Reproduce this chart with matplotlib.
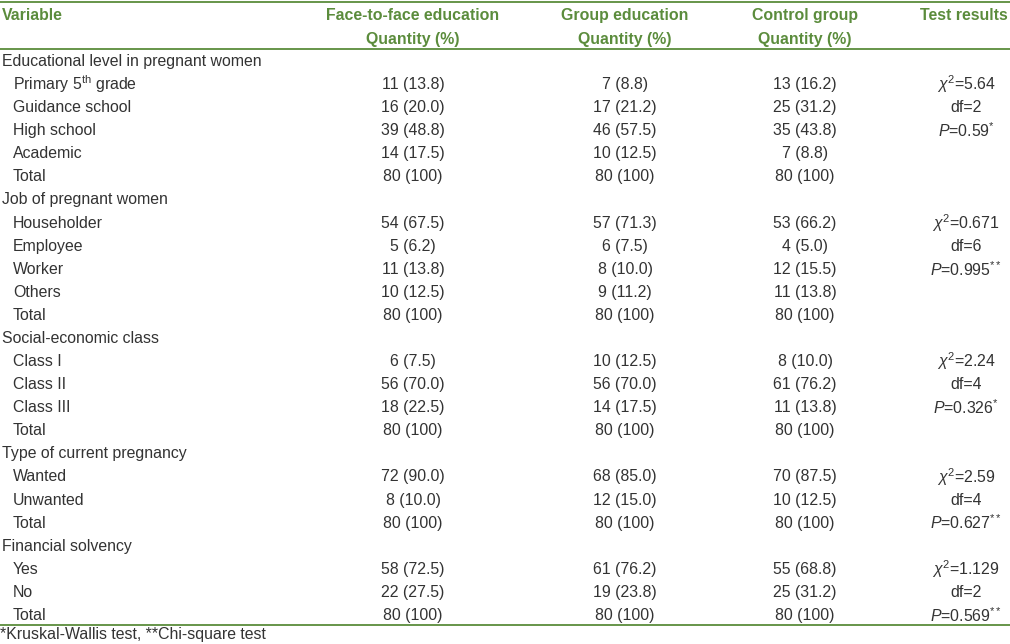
import matplotlib
matplotlib.use("Agg")
import matplotlib.pyplot as plt

plt.rcParams['font.family'] = ['Liberation Sans', 'DejaVu Sans']
plt.rcParams['mathtext.fontset'] = 'custom'
plt.rcParams['mathtext.rm'] = 'Liberation Sans'
plt.rcParams['mathtext.it'] = 'Liberation Sans:italic'
plt.rcParams['mathtext.bf'] = 'Liberation Sans:bold'

columns = ["Face-to-face education", "Group education", "Control group"]
sub_header = "Quantity (%)"

groups = [
    "Educational level in pregnant women",
    "Job of pregnant women",
    "Social-economic class",
    "Type of current pregnancy",
    "Financial solvency",
]
row_labels = [
    ["Primary 5$^{\\rm th}$ grade", "Guidance school", "High school", "Academic", "Total"],
    ["Householder", "Employee", "Worker", "Others", "Total"],
    ["Class I", "Class II", "Class III", "Total"],
    ["Wanted", "Unwanted", "Total"],
    ["Yes", "No", "Total"],
]
face_to_face = [
    ["11 (13.8)", "16 (20.0)", "39 (48.8)", "14 (17.5)", "80 (100)"],
    ["54 (67.5)", "5 (6.2)", "11 (13.8)", "10 (12.5)", "80 (100)"],
    ["6 (7.5)", "56 (70.0)", "18 (22.5)", "80 (100)"],
    ["72 (90.0)", "8 (10.0)", "80 (100)"],
    ["58 (72.5)", "22 (27.5)", "80 (100)"],
]
group_edu = [
    ["7 (8.8)", "17 (21.2)", "46 (57.5)", "10 (12.5)", "80 (100)"],
    ["57 (71.3)", "6 (7.5)", "8 (10.0)", "9 (11.2)", "80 (100)"],
    ["10 (12.5)", "56 (70.0)", "14 (17.5)", "80 (100)"],
    ["68 (85.0)", "12 (15.0)", "80 (100)"],
    ["61 (76.2)", "19 (23.8)", "80 (100)"],
]
control = [
    ["13 (16.2)", "25 (31.2)", "35 (43.8)", "7 (8.8)", "80 (100)"],
    ["53 (66.2)", "4 (5.0)", "12 (15.5)", "11 (13.8)", "80 (100)"],
    ["8 (10.0)", "61 (76.2)", "11 (13.8)", "80 (100)"],
    ["70 (87.5)", "10 (12.5)", "80 (100)"],
    ["55 (68.8)", "25 (31.2)", "80 (100)"],
]
chi2 = ["5.64", "0.671", "2.24", "2.59", "1.129"]
dfs = ["2", "6", "4", "4", "2"]
pvals = ["0.59", "0.995", "0.326", "0.627", "0.569"]
pstars = ["*", "**", "*", "**", "**"]
footnote = "*Kruskal-Wallis test, **Chi-square test"

GREEN = "#5b8c3c"
TEXT = "#333333"
FS = 11.4

fig = plt.figure(figsize=(10.10, 6.44), dpi=100)
ax = fig.add_axes([0, 0, 1, 1])
ax.set_xlim(0, 1010)
ax.set_ylim(644, 0)
ax.axis("off")

# Lines
ax.plot([0, 1010], [1.5, 1.5], color=GREEN, lw=1.3)
ax.plot([0, 1010], [49, 49], color=GREEN, lw=1.3)
ax.plot([0, 1010], [625, 625], color=GREEN, lw=1.3)

col_x = [413, 625, 805]
test_x = 966

# Header
ax.text(2, 15, "Variable", color=GREEN, fontsize=FS, fontweight="bold", va="center", ha="left")
for cx, name in zip(col_x, columns):
    ax.text(cx, 15, name, color=GREEN, fontsize=FS, fontweight="bold", va="center", ha="center")
    ax.text(cx, 39.5, sub_header, color=GREEN, fontsize=FS, fontweight="bold", va="center", ha="center")
ax.text(1008, 15, "Test results", color=GREEN, fontsize=FS, fontweight="bold", va="center", ha="right")

y0 = 61.5
dy = 23.08
r = 0
for g in range(len(groups)):
    ax.text(2, y0 + r * dy, groups[g], color=TEXT, fontsize=FS, va="center", ha="left")
    r += 1
    first = r
    for i, lab in enumerate(row_labels[g]):
        y = y0 + r * dy
        ax.text(13, y, lab, color=TEXT, fontsize=FS, va="center", ha="left")
        ax.text(col_x[0], y, face_to_face[g][i], color=TEXT, fontsize=FS, va="center", ha="center")
        ax.text(col_x[1], y, group_edu[g][i], color=TEXT, fontsize=FS, va="center", ha="center")
        ax.text(col_x[2], y, control[g][i], color=TEXT, fontsize=FS, va="center", ha="center")
        r += 1
    ty = y0 + first * dy
    ax.text(test_x, ty, "$\\mathit{\\chi}^{2}$=" + chi2[g], color=TEXT, fontsize=FS, va="center", ha="center")
    ax.text(test_x, ty + dy, "df=" + dfs[g], color=TEXT, fontsize=FS, va="center", ha="center")
    ax.text(test_x, ty + 2 * dy, "$\\mathit{P}$=" + pvals[g] + "$^{" + pstars[g] + "}$",
            color=TEXT, fontsize=FS, va="center", ha="center")

ax.text(0, 635, footnote, color=TEXT, fontsize=FS, va="center", ha="left")

fig.savefig("out.png", dpi=100, facecolor="white")
